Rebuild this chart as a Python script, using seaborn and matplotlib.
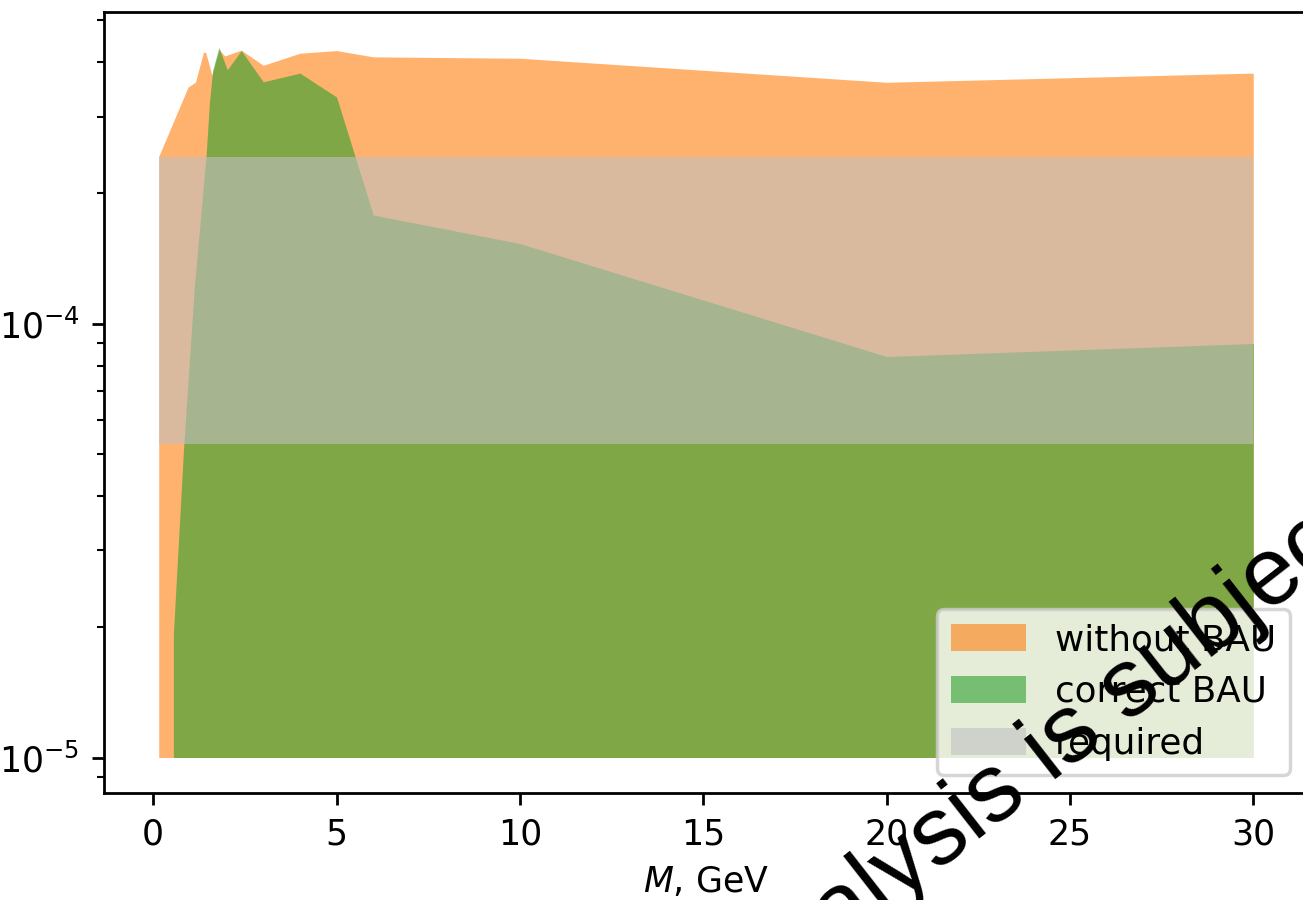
import numpy as np
import pandas as pd
import matplotlib
matplotlib.use("Agg")
import matplotlib.pyplot as plt
import seaborn as sns

# Allowed mixing-parameter region vs. HNL mass
mass_no_bau = [0.15, 0.95, 1.15, 1.37, 1.43, 1.60, 1.80, 1.95, 2.40, 3.0, 4.0, 5.0, 6.0, 10.0, 20.0, 30.0]
u2_no_bau = [2.43e-4, 3.51e-4, 3.60e-4, 4.22e-4, 4.22e-4, 3.74e-4, 4.28e-4, 4.14e-4, 4.27e-4,
             3.94e-4, 4.20e-4, 4.26e-4, 4.12e-4, 4.09e-4, 3.60e-4, 3.78e-4]

mass_bau = [0.55, 0.83, 1.125, 1.44, 1.53, 1.62, 1.79, 2.02, 2.40, 3.0, 4.0, 5.0, 6.0, 10.0, 20.0, 30.0]
u2_bau = [1.93e-5, 5.21e-5, 1.23e-4, 2.43e-4, 3.21e-4, 3.83e-4, 4.33e-4, 3.85e-4, 4.26e-4,
          3.61e-4, 3.78e-4, 3.33e-4, 1.78e-4, 1.53e-4, 8.4e-5, 9.0e-5]

mass_required = [0.15, 30.0]
required_low = [5.27e-5, 5.27e-5]
required_high = [2.42e-4, 2.42e-4]

floor = 1e-5
labels = ["without BAU", "correct BAU", "required"]

no_bau = pd.DataFrame({"M": mass_no_bau, "U2": u2_no_bau})
bau = pd.DataFrame({"M": mass_bau, "U2": u2_bau})

pal = sns.color_palette("tab10")
c_orange, c_green = pal[1], pal[2]

fig = plt.figure(figsize=(1303 / 250, 900 / 250), dpi=250)
ax = fig.add_axes([104 / 1303, 107 / 900, 1204 / 1303, 781 / 900])

ax.fill_between(no_bau["M"], floor, no_bau["U2"], color=c_orange, alpha=0.6, lw=0, label=labels[0])
ax.fill_between(bau["M"], floor, bau["U2"], color=c_green, alpha=0.6, lw=0, label=labels[1])
ax.fill_between(mass_required, required_low, required_high, color="silver", alpha=0.6, lw=0,
                label=labels[2])

ax.set_yscale("log")
ax.set_xlabel("$M$, GeV")
ax.legend(loc="lower right")
sns.move_legend(ax, "lower right", fontsize=10.3, handlelength=2.1, handleheight=0.8)

fig.text(755.1 / 1303, 1 - 1014.2 / 900, "analysis is subject", rotation=38,
         rotation_mode="anchor", ha="left", va="baseline",
         fontsize=27.8, family=["Liberation Sans", "DejaVu Sans"], color="black", zorder=10)

fig.savefig("out.png", dpi=250)
